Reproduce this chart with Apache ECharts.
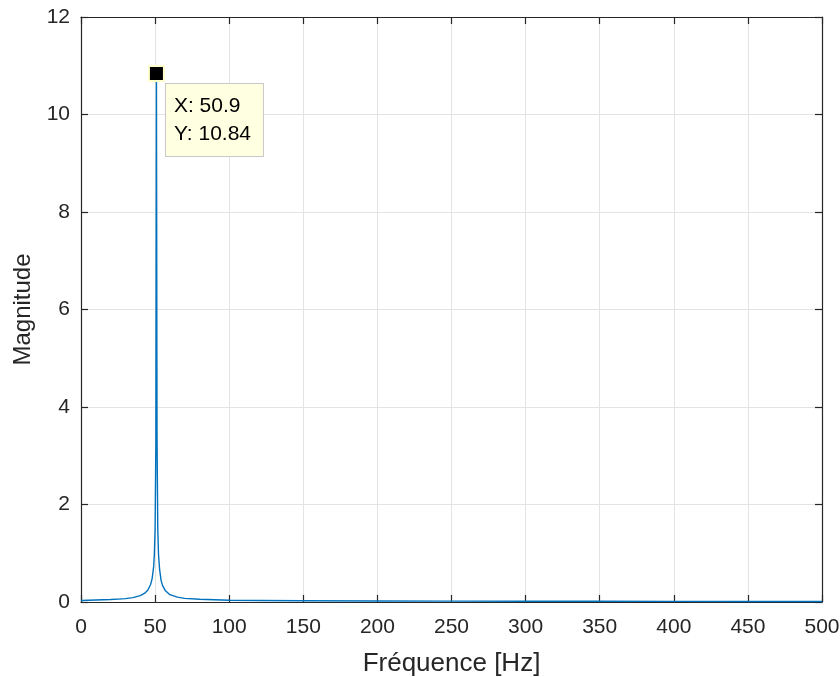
<!DOCTYPE html>
<html>
<head>
<meta charset="utf-8">
<script src="https://cdn.jsdelivr.net/npm/echarts@6/dist/echarts.min.js"></script>
<style>
html,body{margin:0;padding:0;background:#fff;}
#chart{width:840px;height:677px;}
</style>
</head>
<body>
<div id="chart"></div>
<script>
// Spectrum values
var freq = [0, 5, 10, 15, 20, 25, 30, 35, 40, 43, 45, 47, 48, 49, 49.5, 50, 50.5, 50.9, 51.3, 51.8, 52.3, 53, 54, 55, 57, 60, 65, 70, 80, 90, 100, 120, 150, 200, 250, 300, 350, 400, 450, 500];
var mag  = [0.03, 0.035, 0.04, 0.045, 0.05, 0.06, 0.07, 0.09, 0.13, 0.18, 0.24, 0.36, 0.48, 0.72, 0.98, 1.5, 3.2, 10.84, 3.4, 1.5, 0.98, 0.68, 0.45, 0.34, 0.23, 0.15, 0.1, 0.075, 0.055, 0.045, 0.035, 0.03, 0.025, 0.02, 0.018, 0.016, 0.014, 0.012, 0.011, 0.01];
var xTicks = [0, 50, 100, 150, 200, 250, 300, 350, 400, 450, 500];
var yTicks = [0, 2, 4, 6, 8, 10, 12];
var tip = {x: 50.9, y: 10.84};
var xTitle = 'Fréquence [Hz]';
var yTitle = 'Magnitude';

var data = freq.map(function (f, i) { return [f, mag[i]]; });
var FONT = '"Liberation Sans", Arial, Helvetica, sans-serif';
var AX = '#262626';
var GRID = '#e3e3e3';

function tickCfg() {
  return {show: true, inside: true, length: 7, lineStyle: {color: AX, width: 1.2}};
}
function lineCfg() {
  return {show: true, onZero: false, lineStyle: {color: AX, width: 1.2}};
}

var chart = echarts.init(document.getElementById('chart'), null, {renderer: 'canvas'});
chart.setOption({
  animation: false,
  backgroundColor: '#ffffff',
  grid: {left: 81, right: 18, top: 17, bottom: 75, containLabel: false, outerBoundsMode: 'none'},
  xAxis: [{
      type: 'value', min: 0, max: 500, interval: 50, position: 'bottom',
      name: xTitle, nameLocation: 'middle', nameGap: 49,
      nameTextStyle: {fontFamily: FONT, fontSize: 26, color: AX},
      axisLine: lineCfg(),
      axisTick: tickCfg(),
      axisLabel: {inside: false, fontFamily: FONT, fontSize: 21, color: AX, margin: 15,
        formatter: function (v) { return xTicks.indexOf(v) >= 0 ? String(v) : ''; }},
      splitLine: {show: true, lineStyle: {color: GRID, width: 1}}
    }, {
      type: 'value', min: 0, max: 500, interval: 50, position: 'top',
      axisLine: lineCfg(),
      axisTick: tickCfg(),
      axisLabel: {show: false}, splitLine: {show: false}
  }],
  yAxis: [{
      type: 'value', min: 0, max: 12, interval: 2, position: 'left',
      name: yTitle, nameLocation: 'middle', nameGap: 46, nameRotate: 90,
      nameTextStyle: {fontFamily: FONT, fontSize: 24, color: AX},
      axisLine: lineCfg(),
      axisTick: tickCfg(),
      axisLabel: {inside: false, fontFamily: FONT, fontSize: 21, color: AX, margin: 11,
        formatter: function (v) { return yTicks.indexOf(v) >= 0 ? String(v) : ''; }},
      splitLine: {show: true, lineStyle: {color: GRID, width: 1}}
    }, {
      type: 'value', min: 0, max: 12, interval: 2, position: 'right',
      axisLine: lineCfg(),
      axisTick: tickCfg(),
      axisLabel: {show: false}, splitLine: {show: false}
  }],
  series: [{
    type: 'line',
    data: data,
    showSymbol: false,
    symbol: 'none',
    lineStyle: {color: '#0072BD', width: 1.4},
    markPoint: {
      symbol: 'rect',
      symbolSize: 15,
      itemStyle: {color: '#000000', borderColor: '#ffffcc', borderWidth: 2},
      data: [{coord: [tip.x, tip.y], value: tip.y}],
      label: {
        show: true,
        position: [18, 19],
        formatter: 'X: ' + tip.x + '\nY: ' + tip.y,
        fontFamily: FONT,
        fontSize: 21,
        lineHeight: 28,
        color: '#000000',
        align: 'left',
        verticalAlign: 'top',
        backgroundColor: '#ffffe1',
        borderColor: '#c8c8c8',
        borderWidth: 1,
        padding: [8, 9, 8, 8],
        width: 80
      }
    }
  }]
});
</script>
</body>
</html>
